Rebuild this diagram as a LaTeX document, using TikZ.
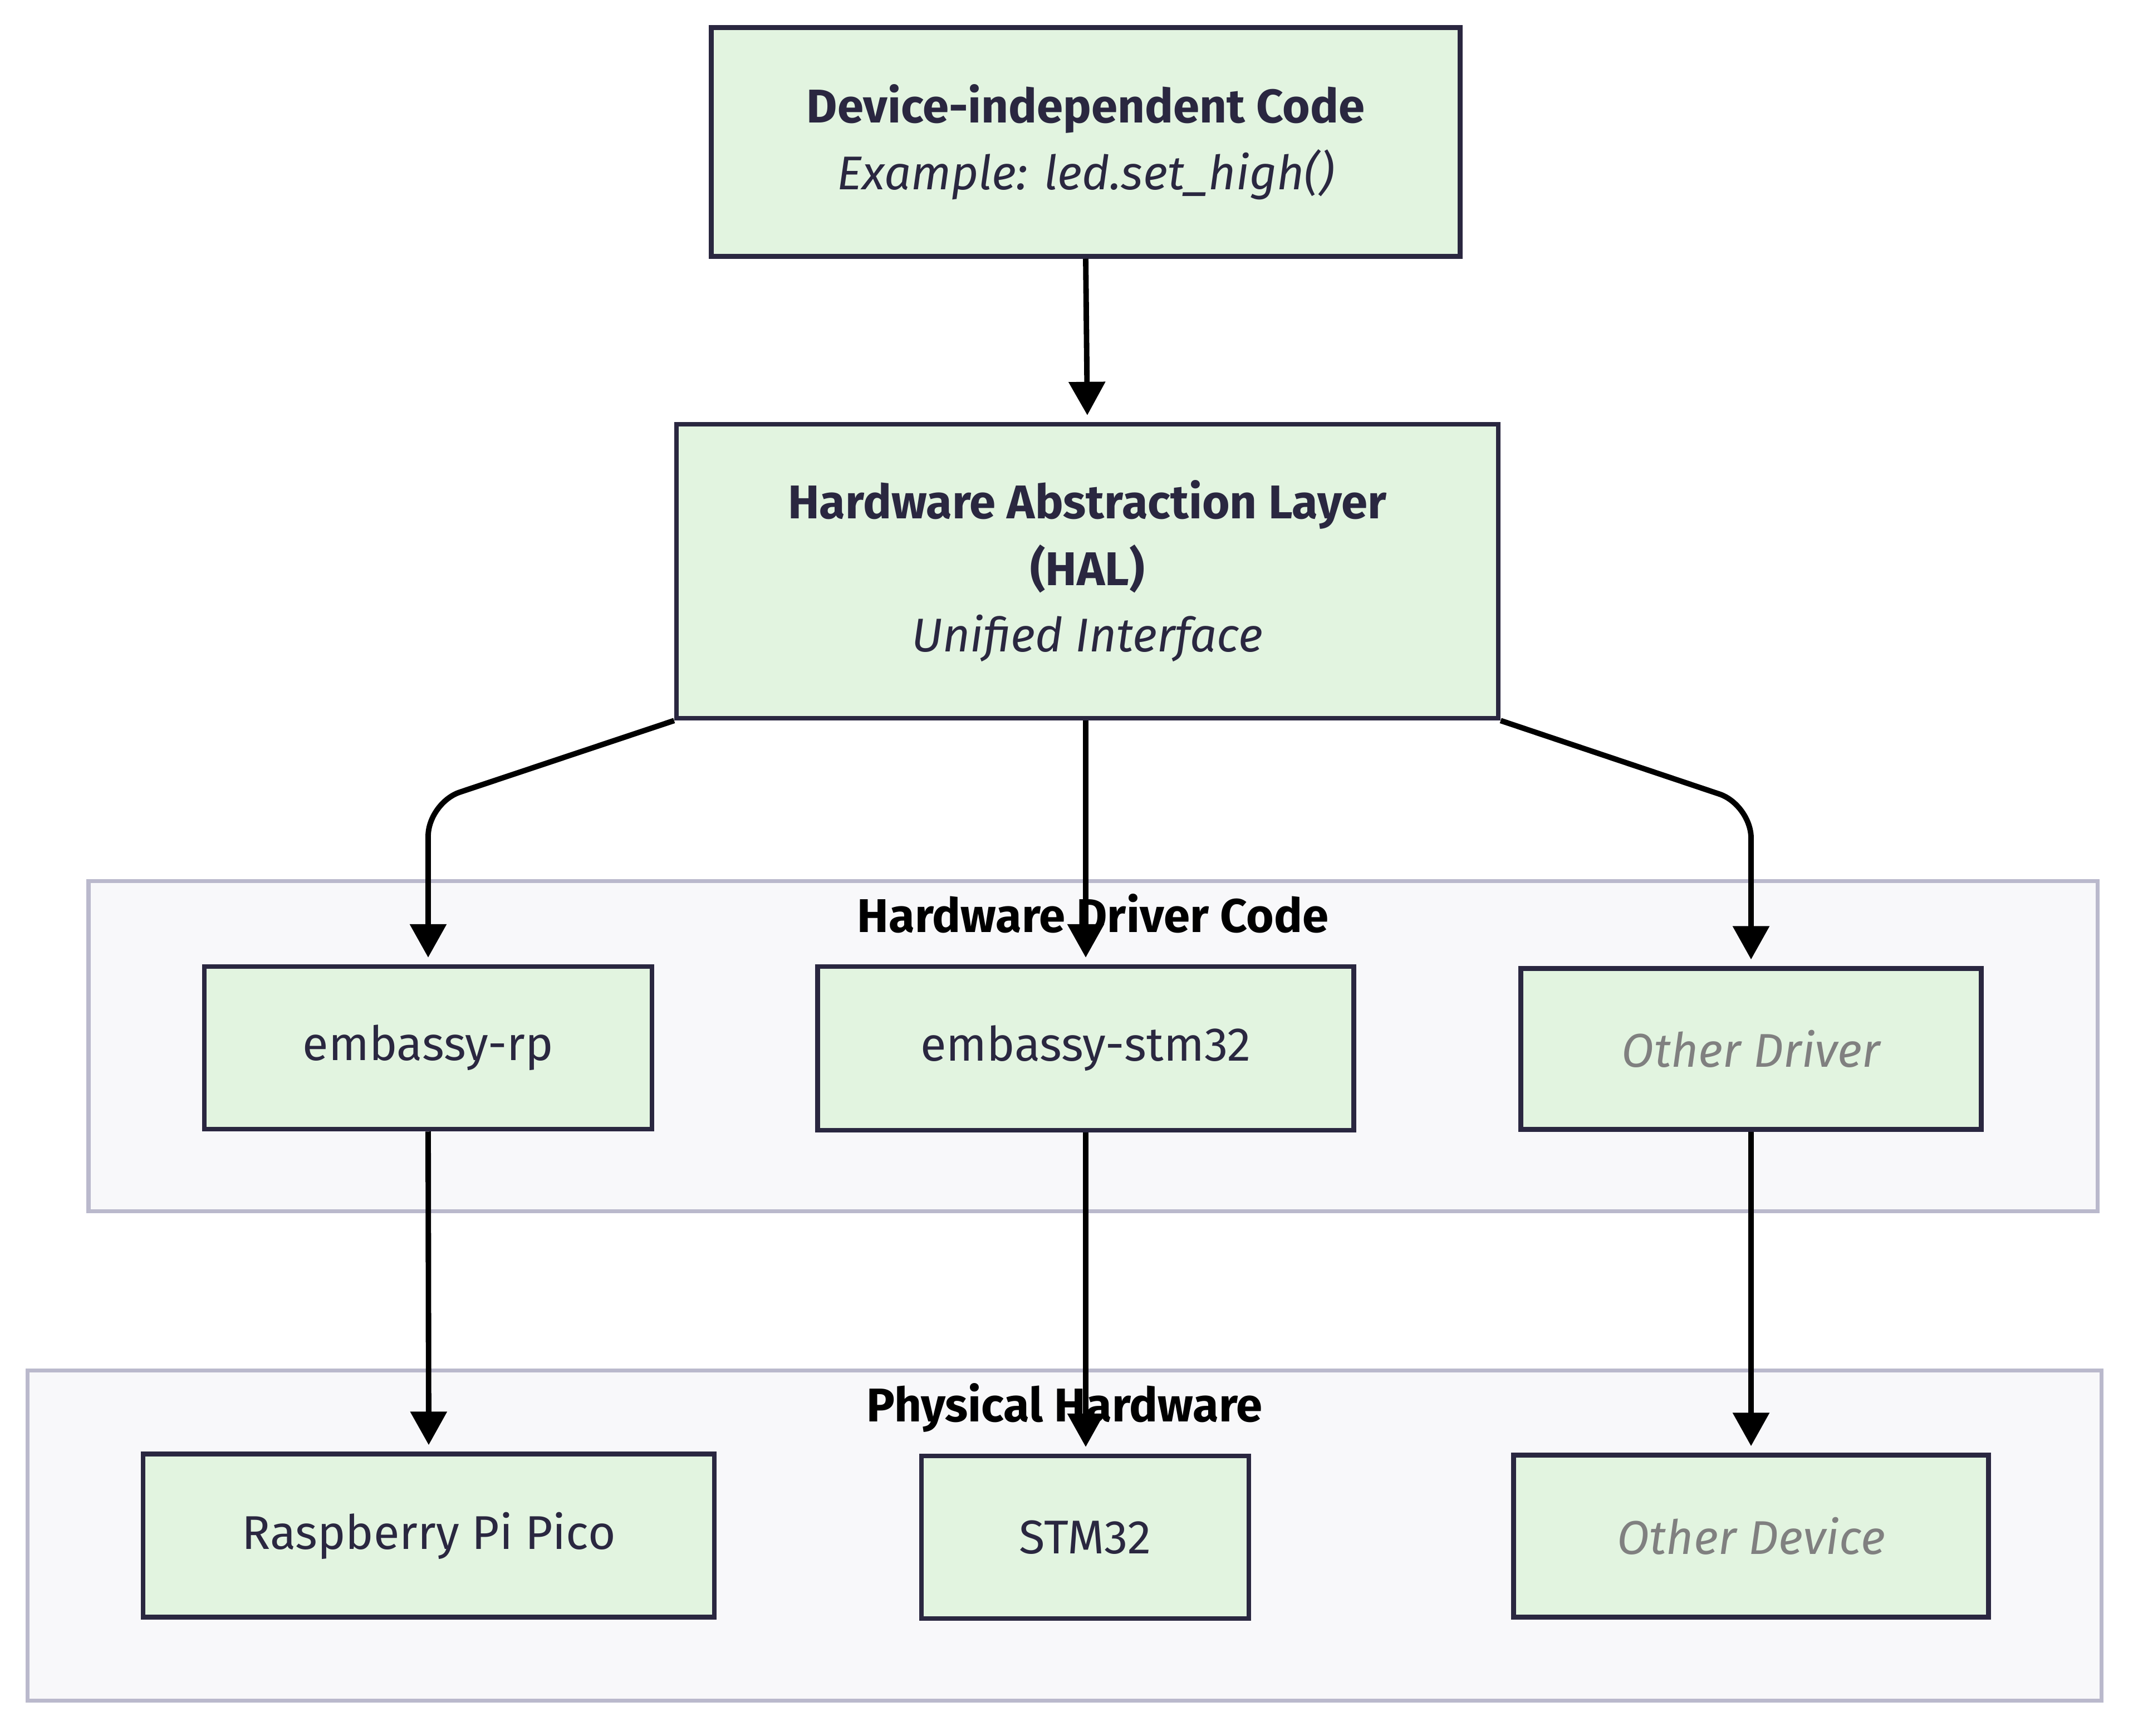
\documentclass[tikz,border=0pt]{standalone}
\usepackage{fontspec}
\setmainfont{Fira Sans}
\usetikzlibrary{positioning,calc,arrows.meta}
\definecolor{ink}{RGB}{42,39,64}
\definecolor{leaf}{RGB}{226,244,224}
\definecolor{mist}{RGB}{248,248,250}
\definecolor{rim}{RGB}{186,185,204}

\begin{document}
\begin{tikzpicture}[
            layerbox/.style={draw=ink, line width=2.4pt, fill=leaf, text=ink, align=center, font=\fontsize{24.2}{34}\selectfont},
            groupbox/.style={draw=rim, line width=2pt, fill=mist},
            grouptitle/.style={anchor=north, font=\fontsize{24.2}{34}\selectfont\bfseries},
            flow/.style={-{Triangle[width=6.4mm,length=6mm]}, line width=2.8pt, shorten >=1.2mm},
            othertext/.style={text=gray, font=\fontsize{24.2}{34}\selectfont\itshape}
        ]
        \useasboundingbox (0,0) rectangle (38.4,-31.17);

        % Clusters
        \node[groupbox, minimum width=36.08cm, minimum height=5.93cm] (drivers) at (19.63,-18.79) {};
        \node[grouptitle] (driverstitle) at ($(drivers.north) + (0,-0.14)$) {Hardware Driver Code};

        \node[groupbox, minimum width=37.25cm, minimum height=5.93cm] (hardware) at (19.12,-27.58) {};
        \node[grouptitle] (hardwaretitle) at ($(hardware.north) + (0,-0.14)$) {Physical Hardware};

        % Device-independent code
        \node[layerbox, minimum width=13.45cm, minimum height=4.11cm] (app) at (19.50,-2.55)
        {\textbf{Device-independent Code}\\ \textit{Example: led.set\_high()}};

        % HAL
        \node[layerbox, minimum width=14.76cm, minimum height=5.28cm] (hal) at (19.53,-10.26)
        {\textbf{Hardware Abstraction Layer}\\ \textbf{(HAL)}\\ \textit{Unified Interface}};

        % Drivers
        \node[layerbox, minimum width=8.04cm, minimum height=2.92cm] (rp) at (7.69,-18.82) {embassy-rp};
        \node[layerbox, minimum width=9.63cm, minimum height=2.94cm] (stm) at (19.50,-18.83) {embassy-stm32};
        \node[layerbox, othertext, minimum width=8.27cm, minimum height=2.89cm] (otherdrv) at (31.45,-18.84) {Other Driver};

        % Devices
        \node[layerbox, minimum width=10.26cm, minimum height=2.93cm] (pico) at (7.70,-27.58) {Raspberry Pi Pico};
        \node[layerbox, minimum width=5.88cm, minimum height=2.92cm] (chip) at (19.49,-27.61) {STM32};
        \node[layerbox, othertext, minimum width=8.53cm, minimum height=2.91cm] (otherdev) at (31.45,-27.59) {Other Device};

        % Arrows
        \draw[flow] (app.south) -- (hal.north);
        \draw[flow, rounded corners=0.6cm] (hal.south west) -- ([yshift=2.9cm]rp.north) -- (rp.north);
        \draw[flow] (hal.south -| stm.north) -- (stm.north);
        \draw[flow, rounded corners=0.6cm] (hal.south east) -- ([yshift=2.9cm]otherdrv.north) -- (otherdrv.north);

        \draw[flow] (rp.south) -- (pico.north);
        \draw[flow] (stm.south) -- (chip.north -| stm.south);
        \draw[flow] (otherdrv.south) -- (otherdev.north);

\end{tikzpicture}
\end{document}
